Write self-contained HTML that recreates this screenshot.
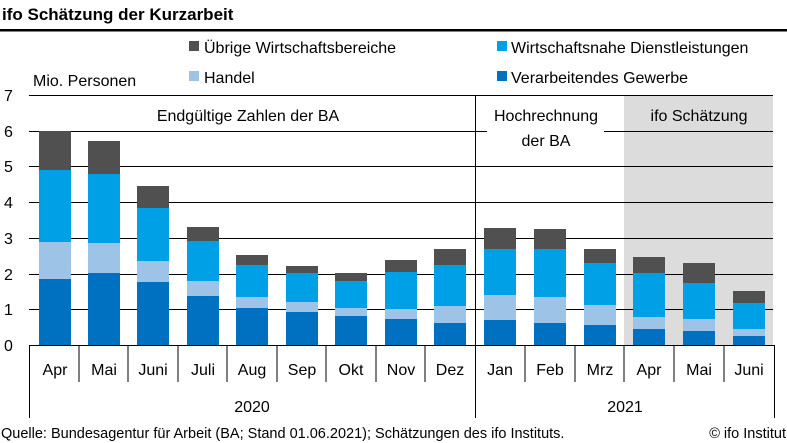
<!DOCTYPE html>
<html><head><meta charset="utf-8"><style>
body{margin:0;background:#fff}
svg{display:block;font-family:"Liberation Sans",sans-serif}
</style></head><body>
<svg width="787" height="443" viewBox="0 0 787 443" xmlns="http://www.w3.org/2000/svg">
<text x="2" y="20" font-size="17" font-weight="bold" fill="#000">ifo Schätzung der Kurzarbeit</text>
<rect x="0" y="29" width="787" height="2.5" fill="#000"/>
<rect x="189" y="41" width="10" height="10" fill="#505050"/><text x="204" y="53" font-size="16">Übrige Wirtschaftsbereiche</text>
<rect x="189" y="71" width="10" height="10" fill="#9dc3e6"/><text x="204" y="83" font-size="16">Handel</text>
<rect x="497" y="41" width="10" height="10" fill="#00a0e6"/><text x="511" y="53" font-size="16">Wirtschaftsnahe Dienstleistungen</text>
<rect x="497" y="71" width="10" height="10" fill="#0070c0"/><text x="511" y="83" font-size="16">Verarbeitendes Gewerbe</text>
<text x="33" y="86" font-size="16">Mio. Personen</text>
<rect x="624" y="96" width="149" height="249" fill="#dcdcdc"/>
<g stroke="#000" stroke-width="1">
<line x1="29" y1="95.5" x2="773" y2="95.5"/>
<line x1="29" y1="131.5" x2="773" y2="131.5"/>
<line x1="29" y1="166.5" x2="773" y2="166.5"/>
<line x1="29" y1="202.5" x2="773" y2="202.5"/>
<line x1="29" y1="238.5" x2="773" y2="238.5"/>
<line x1="29" y1="274.5" x2="773" y2="274.5"/>
<line x1="29" y1="309.5" x2="773" y2="309.5"/>
</g>
<g font-size="16">
<text x="4" y="101">7</text><text x="4" y="137">6</text><text x="4" y="172">5</text><text x="4" y="208">4</text><text x="4" y="244">3</text><text x="4" y="280">2</text><text x="4" y="315">1</text><text x="4" y="351">0</text>
</g>
<rect x="487" y="124" width="117" height="14" fill="#fff"/>
<text x="248" y="121" font-size="16" text-anchor="middle">Endgültige Zahlen der BA</text>
<text x="546" y="121" font-size="16" text-anchor="middle">Hochrechnung</text>
<text x="546" y="146" font-size="16" text-anchor="middle">der BA</text>
<text x="699" y="121" font-size="16" text-anchor="middle">ifo Schätzung</text>
<g>
<rect x="39" y="279" width="32" height="66" fill="#0070c0"/><rect x="39" y="242" width="32" height="37" fill="#9dc3e6"/><rect x="39" y="170" width="32" height="72" fill="#00a0e6"/><rect x="39" y="131" width="32" height="39" fill="#505050"/>
<rect x="88" y="273" width="32" height="72" fill="#0070c0"/><rect x="88" y="243" width="32" height="30" fill="#9dc3e6"/><rect x="88" y="174" width="32" height="69" fill="#00a0e6"/><rect x="88" y="141" width="32" height="33" fill="#505050"/>
<rect x="137" y="282" width="32" height="63" fill="#0070c0"/><rect x="137" y="261" width="32" height="21" fill="#9dc3e6"/><rect x="137" y="208" width="32" height="53" fill="#00a0e6"/><rect x="137" y="186" width="32" height="22" fill="#505050"/>
<rect x="187" y="296" width="32" height="49" fill="#0070c0"/><rect x="187" y="281" width="32" height="15" fill="#9dc3e6"/><rect x="187" y="241" width="32" height="40" fill="#00a0e6"/><rect x="187" y="227" width="32" height="14" fill="#505050"/>
<rect x="236" y="308" width="32" height="37" fill="#0070c0"/><rect x="236" y="297" width="32" height="11" fill="#9dc3e6"/><rect x="236" y="265" width="32" height="32" fill="#00a0e6"/><rect x="236" y="255" width="32" height="10" fill="#505050"/>
<rect x="286" y="312" width="32" height="33" fill="#0070c0"/><rect x="286" y="302" width="32" height="10" fill="#9dc3e6"/><rect x="286" y="273" width="32" height="29" fill="#00a0e6"/><rect x="286" y="266" width="32" height="7" fill="#505050"/>
<rect x="335" y="316" width="32" height="29" fill="#0070c0"/><rect x="335" y="308" width="32" height="8" fill="#9dc3e6"/><rect x="335" y="281" width="32" height="27" fill="#00a0e6"/><rect x="335" y="273" width="32" height="8" fill="#505050"/>
<rect x="385" y="319" width="32" height="26" fill="#0070c0"/><rect x="385" y="309" width="32" height="10" fill="#9dc3e6"/><rect x="385" y="272" width="32" height="37" fill="#00a0e6"/><rect x="385" y="260" width="32" height="12" fill="#505050"/>
<rect x="434" y="323" width="32" height="22" fill="#0070c0"/><rect x="434" y="306" width="32" height="17" fill="#9dc3e6"/><rect x="434" y="265" width="32" height="41" fill="#00a0e6"/><rect x="434" y="249" width="32" height="16" fill="#505050"/>
<rect x="484" y="320" width="32" height="25" fill="#0070c0"/><rect x="484" y="295" width="32" height="25" fill="#9dc3e6"/><rect x="484" y="249" width="32" height="46" fill="#00a0e6"/><rect x="484" y="228" width="32" height="21" fill="#505050"/>
<rect x="534" y="323" width="32" height="22" fill="#0070c0"/><rect x="534" y="297" width="32" height="26" fill="#9dc3e6"/><rect x="534" y="249" width="32" height="48" fill="#00a0e6"/><rect x="534" y="229" width="32" height="20" fill="#505050"/>
<rect x="584" y="325" width="32" height="20" fill="#0070c0"/><rect x="584" y="305" width="32" height="20" fill="#9dc3e6"/><rect x="584" y="263" width="32" height="42" fill="#00a0e6"/><rect x="584" y="249" width="32" height="14" fill="#505050"/>
<rect x="633" y="329" width="32" height="16" fill="#0070c0"/><rect x="633" y="317" width="32" height="12" fill="#9dc3e6"/><rect x="633" y="273" width="32" height="44" fill="#00a0e6"/><rect x="633" y="257" width="32" height="16" fill="#505050"/>
<rect x="683" y="331" width="32" height="14" fill="#0070c0"/><rect x="683" y="319" width="32" height="12" fill="#9dc3e6"/><rect x="683" y="283" width="32" height="36" fill="#00a0e6"/><rect x="683" y="263" width="32" height="20" fill="#505050"/>
<rect x="733" y="336" width="32" height="9" fill="#0070c0"/><rect x="733" y="329" width="32" height="7" fill="#9dc3e6"/><rect x="733" y="303" width="32" height="26" fill="#00a0e6"/><rect x="733" y="291" width="32" height="12" fill="#505050"/>
</g>
<g stroke="#000" stroke-width="1">
<line x1="29" y1="345.5" x2="775" y2="345.5"/>
<line x1="29.5" y1="345" x2="29.5" y2="418"/>
<line x1="475.5" y1="95" x2="475.5" y2="418"/>
<line x1="774.5" y1="345" x2="774.5" y2="418"/>
<line x1="79" y1="345" x2="79" y2="382"/><line x1="128" y1="345" x2="128" y2="382"/>
<line x1="178" y1="345" x2="178" y2="382"/><line x1="227" y1="345" x2="227" y2="382"/>
<line x1="277" y1="345" x2="277" y2="382"/><line x1="326" y1="345" x2="326" y2="382"/>
<line x1="376" y1="345" x2="376" y2="382"/><line x1="425" y1="345" x2="425" y2="382"/>
<line x1="525" y1="345" x2="525" y2="382"/><line x1="575" y1="345" x2="575" y2="382"/>
<line x1="624" y1="345" x2="624" y2="382"/><line x1="674" y1="345" x2="674" y2="382"/>
<line x1="724" y1="345" x2="724" y2="382"/>
</g>
<g font-size="16" text-anchor="middle">
<text x="55" y="375">Apr</text><text x="104" y="375">Mai</text><text x="153" y="375">Juni</text><text x="203" y="375">Juli</text><text x="252" y="375">Aug</text><text x="302" y="375">Sep</text><text x="351" y="375">Okt</text><text x="401" y="375">Nov</text><text x="450" y="375">Dez</text>
<text x="500" y="375">Jan</text><text x="550" y="375">Feb</text><text x="600" y="375">Mrz</text><text x="649" y="375">Apr</text><text x="699" y="375">Mai</text><text x="749" y="375">Juni</text>
<text x="252" y="412">2020</text><text x="625" y="412">2021</text>
</g>
<text x="1" y="438" font-size="14.5">Quelle: Bundesagentur für Arbeit (BA; Stand 01.06.2021); Schätzungen des ifo Instituts.</text>
<text x="786" y="438" font-size="14.5" text-anchor="end">© ifo Institut</text>
</svg>
</body></html>
